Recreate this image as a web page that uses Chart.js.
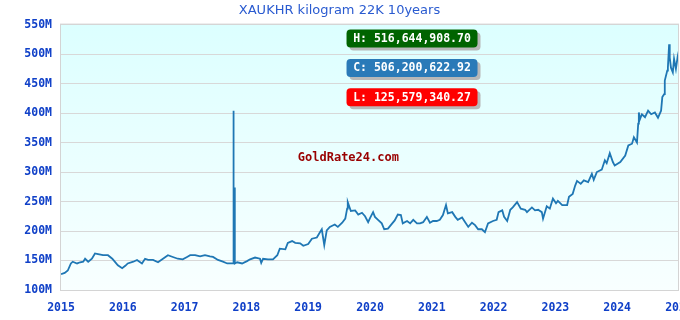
<!DOCTYPE html>
<html><head><meta charset="utf-8">
<script src="https://cdn.jsdelivr.net/npm/chart.js@4"></script>
<style>
html,body{margin:0;padding:0;overflow:hidden;background:#fff;width:680px;height:320px}
#wrap{position:relative;width:720px;height:320px}
</style>
</head><body><div id="wrap"><canvas id="c" width="720" height="320"></canvas></div>
<script>
// decimal years
const years = [
2015.00,2015.06,2015.11,2015.16,2015.19,2015.26,2015.31,2015.36,2015.39,2015.44,2015.50,2015.55,2015.60,2015.68,2015.76,2015.83,2015.87,2015.92,2015.99,
2016.04,2016.08,2016.17,2016.23,2016.31,2016.36,2016.41,2016.49,2016.57,2016.65,2016.73,2016.81,2016.89,2016.97,
2017.04,2017.09,2017.17,2017.25,2017.33,2017.41,2017.46,2017.54,2017.62,2017.69,2017.77,2017.785,2017.79,2017.795,2017.805,2017.81,2017.815,2017.85,2017.93,
2018.01,2018.06,2018.14,2018.22,2018.24,2018.27,2018.35,2018.43,2018.50,2018.54,2018.63,2018.67,2018.74,2018.79,2018.87,2018.92,
2019.00,2019.06,2019.14,2019.19,2019.22,2019.26,2019.30,2019.35,2019.43,2019.48,2019.55,2019.60,2019.63,2019.64,2019.69,2019.76,2019.81,2019.87,2019.92,2019.97,
2020.00,2020.05,2020.08,2020.13,2020.19,2020.23,2020.29,2020.36,2020.40,2020.45,2020.50,2020.53,2020.60,2020.65,2020.70,2020.76,2020.81,2020.86,2020.92,2020.97,
2021.02,2021.08,2021.13,2021.18,2021.23,2021.26,2021.33,2021.38,2021.42,2021.49,2021.54,2021.59,2021.65,2021.70,2021.75,2021.81,2021.86,2021.91,2021.99,
2022.05,2022.08,2022.14,2022.17,2022.22,2022.27,2022.31,2022.38,2022.44,2022.51,2022.54,2022.62,2022.67,2022.72,2022.78,2022.80,2022.86,2022.91,2022.96,
2023.01,2023.04,2023.11,2023.19,2023.22,2023.28,2023.32,2023.35,2023.41,2023.46,2023.53,2023.59,2023.62,2023.67,2023.75,2023.80,2023.83,2023.88,2023.93,2023.96,
2024.05,2024.13,2024.18,2024.24,2024.27,2024.32,2024.34,2024.35,2024.37,2024.40,2024.45,2024.50,2024.55,2024.61,2024.66,2024.71,2024.73,2024.76,2024.77,2024.81,2024.82,2024.84,2024.85,2024.87,2024.90,2024.92,2024.95,2024.98,2025.00
];
// price in millions
const values = [
127,129,133,145,148,145,147,148,153,148,153,162,161,159,159,153,148,142,137,
141,145,148,151,145,153,151,151,147,153,159,156,153,152,
156,159,159,157,159,157,156,151,148,145,145,145,404,145,145,274,145,147,145,
149,152,155,153,146,153,152,152,159,170,169,180,183,180,179,175,
178,187,189,198,203,176,201,207,211,207,214,221,238,249,234,235,228,231,225,215,
222,232,224,219,213,203,204,213,218,228,227,213,217,213,219,213,213,215,224,214,
217,217,219,227,244,230,232,224,219,223,215,207,214,210,203,203,198,213,217,
219,232,235,224,217,236,240,249,238,236,232,240,235,236,232,221,242,238,255,
247,251,244,244,258,263,277,285,280,286,283,297,287,300,304,320,315,332,317,311,
317,328,345,348,359,350,382,401,390,398,393,404,398,401,392,404,427,432,455,472,477,516.6,494,477,469,492,475,497,506.2
];
const xTicks = [2015,2016,2017,2018,2019,2020,2021,2022,2023,2024,2025];
const yTicks = [100,150,200,250,300,350,400,450,500,550];
const statNames = ['H','C','L'];
const statValues = [516644908.70, 506200622.92, 125579340.27];
const statColors = ['#006400','#2a7ab8','#ff0000'];
const titleText = 'XAUKHR kilogram 22K 10years';
const watermark = 'GoldRate24.com';

const tickColor = '#1040c8';
const monoFont = {family:'"DejaVu Sans Mono", monospace', size:11.5, weight:'bold'};

function fmt(v){
  return v.toLocaleString('en-US',{minimumFractionDigits:2,maximumFractionDigits:2});
}

const bgPlugin = {
  id:'bg',
  beforeDraw(chart){
    const {ctx, chartArea:a} = chart;
    const g = ctx.createLinearGradient(0,a.top,0,a.bottom);
    g.addColorStop(0,'#dcffff');
    g.addColorStop(1,'#f8ffff');
    ctx.save();
    ctx.fillStyle = g;
    ctx.fillRect(a.left,a.top,a.right-a.left,a.bottom-a.top);
    ctx.restore();
  },
  afterDatasetsDraw(chart){
    const {ctx, chartArea:a} = chart;
    ctx.save();
    ctx.strokeStyle = '#d4d4d4';
    ctx.lineWidth = 1;
    ctx.strokeRect(a.left-0.5,a.top-0.5,a.right-a.left,a.bottom-a.top+1);
    // watermark
    ctx.fillStyle = '#990000';
    ctx.font = 'bold 12px "DejaVu Sans Mono", monospace';
    ctx.textAlign = 'center';
    ctx.textBaseline = 'middle';
    ctx.fillText(watermark, a.left + (a.right-a.left)*0.465, a.top + (a.bottom-a.top)*0.503);
    // stat boxes
    ctx.font = 'bold 11.5px "DejaVu Sans Mono", monospace';
    const cx = a.left + (a.right-a.left)*0.568;
    statNames.forEach((n,i)=>{
      const txt = n + ': ' + fmt(statValues[i]);
      const w = 131, h = 18;
      const x = cx - w/2, y = a.top + 5 + i*29.3;
      ctx.fillStyle = '#b8b8b8';
      ctx.beginPath(); ctx.roundRect(x+3,y+3,w,h,4); ctx.fill();
      ctx.fillStyle = statColors[i];
      ctx.beginPath(); ctx.roundRect(x,y,w,h,4); ctx.fill();
      ctx.fillStyle = '#ffffff';
      ctx.fillText(txt, cx, y+h/2+0.5);
    });
    ctx.restore();
  }
};

new Chart(document.getElementById('c'), {
  type:'line',
  data:{datasets:[{
    data: years.map((x,i)=>({x, y: values[i]})),
    borderColor:'#1f77b4',
    borderWidth:1.8,
    pointRadius:0,
    tension:0,
    fill:false
  }]},
  options:{
    responsive:false,
    animation:false,
    devicePixelRatio:1,
    parsing:false,
    layout:{padding:{left:0,right:41,top:0,bottom:0}},
    plugins:{
      legend:{display:false},
      tooltip:{enabled:false},
      title:{display:true,text:titleText,color:'#2a5bd0',
        font:{family:'"DejaVu Sans", sans-serif',size:13,weight:'normal'},
        padding:{top:3,bottom:6}}
    },
    scales:{
      x:{
        type:'linear', min:2015, max:2025,
        afterBuildTicks(s){ s.ticks = xTicks.map(v=>({value:v})); },
        afterFit(s){ s.height = 30; },
        ticks:{color:tickColor,font:monoFont,padding:11,maxRotation:0,autoSkip:false,
          callback:v=>String(v)},
        grid:{display:false,drawTicks:false},
        border:{display:false}
      },
      y:{
        min:100, max:550,
        afterBuildTicks(s){ s.ticks = yTicks.map(v=>({value:v})); },
        afterFit(s){ s.width = 61; },
        ticks:{color:tickColor,font:monoFont,padding:9,callback:v=>v+'M'},
        grid:{color:'#d8d8d8',drawTicks:false},
        border:{display:false}
      }
    }
  },
  plugins:[bgPlugin]
});
</script>
</body></html>
